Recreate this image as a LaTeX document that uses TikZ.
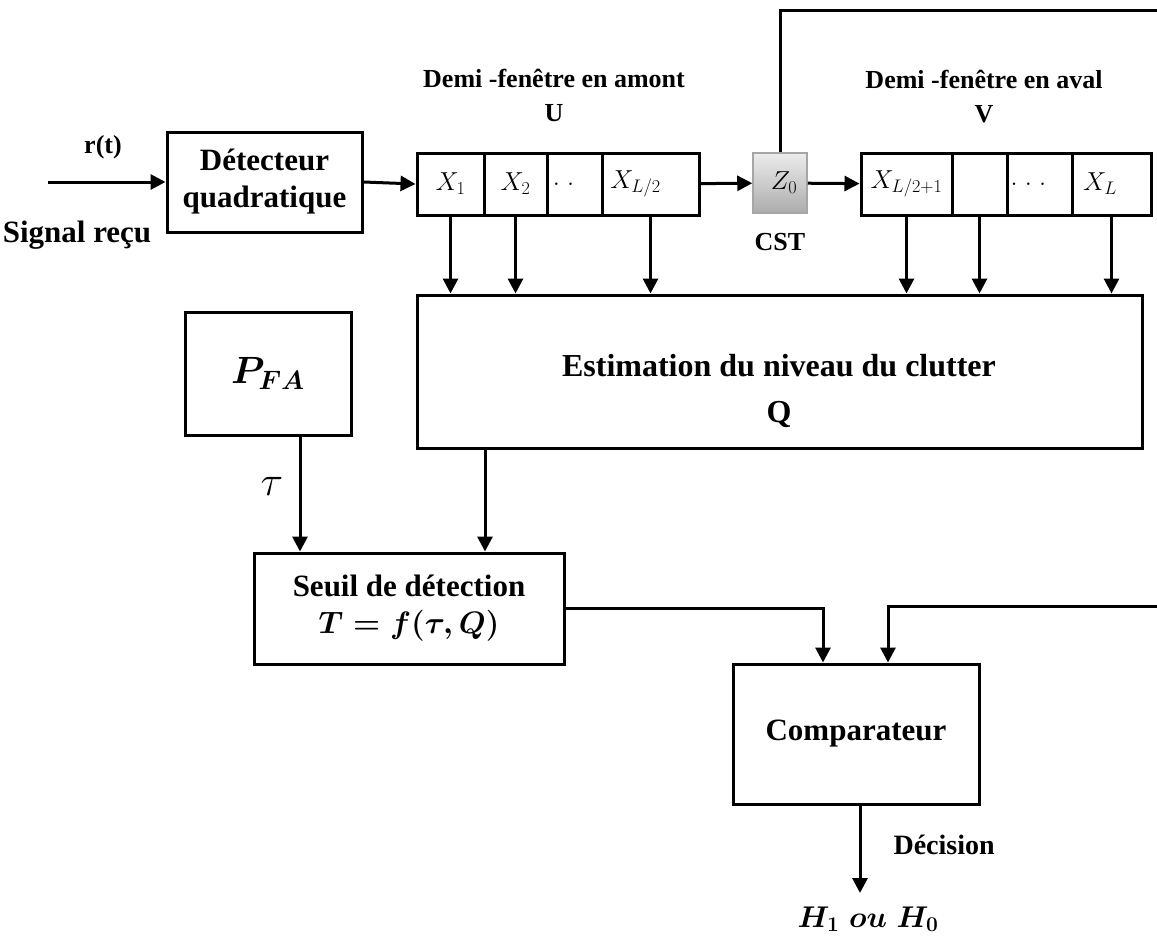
\RequirePackage{fix-cm}
\documentclass[tikz,border=0pt]{standalone}
\usepackage{amsmath}
\usepackage{fontspec}
\setmainfont{Liberation Serif}
\usetikzlibrary{arrows.meta}

\newcommand{\letragrande}{\fontsize{31}{37}\selectfont\bfseries}
\newcommand{\letrachica}{\fontsize{26}{34}\selectfont\bfseries}
\newcommand{\letracelda}{\fontsize{26}{28}\selectfont}

\begin{document}
\begin{tikzpicture}[x=1pt, y=-1pt,
    bloque/.style={draw, line width=3pt, align=center, inner sep=0pt, font=\letragrande},
    celda/.style={draw, line width=3pt, minimum width=#1, minimum height=62pt, inner sep=0pt, font=\letracelda},
    etiq/.style={align=center, font=\letrachica},
    flecha/.style={line width=3pt, -{Triangle[length=15pt,width=15pt]}}]
    \useasboundingbox (0,0) rectangle (1157,940);

    % Entrada y detector
    \node[bloque, minimum width=195pt, minimum height=100pt] (det) at (264.5,182) {Détecteur\\quadratique};
    \coordinate (ent) at (48,182);
    \draw[flecha] (ent) -- (det);
    \node[etiq] (rt) at (103,147) {r(t)};
    \node[etiq, font=\letragrande] (sig) at (77,235) {Signal reçu};

    % Demi-fenetre en amont
    \node[celda=67pt] (u1) at (450.5,184) {$X_1$};
    \node[celda=63pt] (u2) at (515.5,184) {$X_2$};
    \node[celda=55pt] (u3) at (574.5,184) {$.\;.$\hspace*{22pt}};
    \node[celda=97pt] (u4) at (650.5,184) {$X_{L/2}$\hspace*{30pt}};
    \node[etiq] (amont) at (554,95) {Demi -fenêtre en amont\\U};

    % Cellule sous test
    \node[draw=gray!70, line width=1.5pt, top color=gray!15, bottom color=gray!65,
          minimum width=54pt, minimum height=60pt, inner sep=0pt, font=\letracelda] (z0) at (780,183) {\hspace*{8pt}$Z_0$};
    \node[etiq] (cst) at (780,242) {CST};

    % Demi-fenetre en aval
    \node[celda=91pt] (v1) at (906.5,184) {$X_{L/2+1}$};
    \node[celda=55pt] (v2) at (979.5,184) {};
    \node[celda=65pt] (v3) at (1039.5,184) {$.\;.\;.$\hspace*{22pt}};
    \node[celda=79pt] (v4) at (1111.5,184) {$X_L$\hspace*{23pt}};
    \node[etiq] (aval) at (984,97) {Demi -fenêtre en aval\\V};

    \draw[flecha] (det.east) -- (u1.west);
    \draw[flecha] (u4) -- (z0);
    \draw[flecha] (z0) -- (v1);

    % Estimation du clutter
    \node[bloque, minimum width=725pt, minimum height=153pt] (est) at (779.5,371.5) {};
    \node[align=center, font=\fontsize{32}{46}\selectfont\bfseries] (esttxt) at (779,391) {Estimation du niveau du clutter\\Q};
    \foreach \c in {u1,u2,u4,v1,v2,v4}
        \draw[flecha] (\c.south) -- (\c.south |- est.north);

    % PFA et seuil
    \node[bloque, minimum width=166pt, minimum height=123pt, font=\fontsize{38}{42}\selectfont] (pfa) at (268,373.5) {$\boldsymbol{P_{FA}}$};
    \node[font=\fontsize{42}{46}\selectfont] (tau) at (272,486) {$\tau$};
    \node[bloque, minimum width=310pt, minimum height=111pt] (seuil) at (409,608.5) {Seuil de détection\\$\boldsymbol{T=f(\tau,Q)}$};
    \draw[flecha] ([xshift=32pt]pfa.south) -- ([xshift=32pt]pfa.south |- seuil.north);
    \draw[flecha] ([xshift=-294.5pt]est.south) -- ([xshift=-294.5pt]est.south |- seuil.north);

    % Comparateur
    \node[bloque, minimum width=246pt, minimum height=140pt] (comp) at (856,734) {Comparateur};
    \draw[flecha] (seuil.east) -| ([xshift=-33pt]comp.north);
    \coordinate (retA) at (1160,10);
    \coordinate (retB) at (1160,606);
    \draw[flecha] (z0.north) |- (retA) -- (retB) -| ([xshift=32pt]comp.north);

    % Decision
    \coordinate (dec) at (860,893);
    \draw[flecha] (comp.south -| dec) -- (dec);
    \node[etiq, anchor=west, font=\fontsize{28}{32}\selectfont\bfseries] (decision) at (890,845) {Décision};
    \node[font=\fontsize{30}{34}\selectfont] (hyp) at (868,919) {$\boldsymbol{H_1\;ou\;H_0}$};
\end{tikzpicture}
\end{document}
